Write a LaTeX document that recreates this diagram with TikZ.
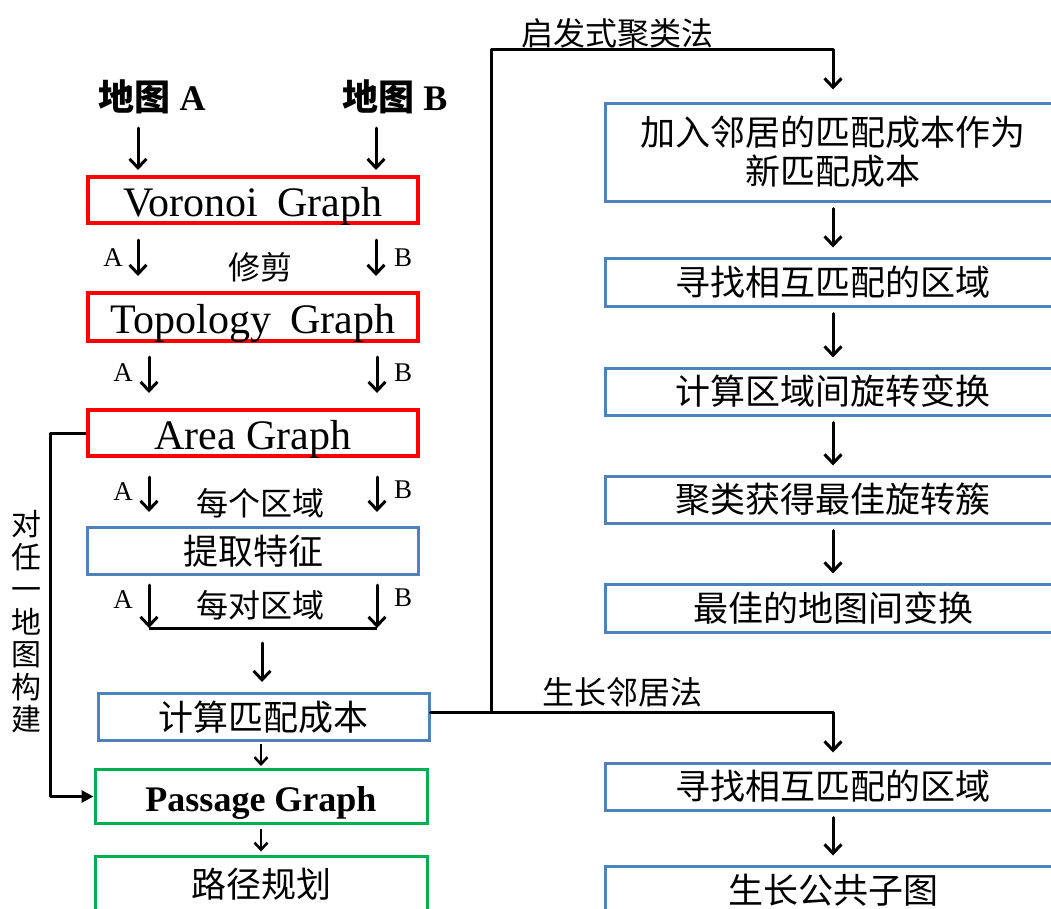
\documentclass[tikz,border=0pt]{standalone}
\usepackage{fontspec}
\setmainfont{Liberation Serif}
\newfontfamily\cjk{Noto Sans CJK SC}
\usetikzlibrary{arrows.meta,calc}
\definecolor{boxblue}{RGB}{79,129,189}
\definecolor{boxgreen}{RGB}{0,176,80}
\begin{document}
\begin{tikzpicture}[x=1pt,y=-1pt,
  redbox/.style={draw=red, line width=4pt, minimum width=330pt, inner sep=0pt, text height=32pt, text depth=0pt, font=\fontsize{42}{46}\selectfont},
  bluebox/.style={draw=boxblue, line width=3pt, inner sep=0pt, align=center, font=\cjk\fontsize{35}{39}\selectfont},
  greenbox/.style={draw=boxgreen, line width=3pt, inner sep=0pt, align=center, font=\cjk\fontsize{35}{39}\selectfont},
  lbl/.style={font=\cjk\fontsize{32}{36}\selectfont, inner sep=0pt},
  ab/.style={font=\fontsize{27}{30}\selectfont, inner sep=0pt},
  arr/.style={line width=3pt, line cap=round, -{Straight Barb[length=9pt,width=17pt]}},
  sarr/.style={line width=2.5pt, -{Straight Barb[length=7pt,width=13pt]}},
  conn/.style={line width=3pt, line join=round}
]
\useasboundingbox (0,0) rectangle (1051,908);
\clip (0,0) rectangle (1051,908);

% columns
\coordinate (xa1) at (138,0);
\coordinate (xa2) at (149,0);
\coordinate (xb) at (377,0);
\coordinate (lx) at (50,0);

% top labels
\node[inner sep=0pt, font=\fontsize{36}{40}\selectfont\bfseries] (mapA) at (152,97) {{\cjk 地图} A};
\node[inner sep=0pt, font=\fontsize{36}{40}\selectfont\bfseries] (mapB) at (395,97) {{\cjk 地图} B};

% left column boxes
\node[redbox, minimum height=46pt] (vor) at (253,200) {Voronoi\hspace{0.45em}Graph};
\node[redbox, minimum height=48pt] (topo) at (253,317) {Topology\hspace{0.45em}Graph};
\node[redbox, minimum height=46pt] (area) at (253,433) {Area Graph};
\node[bluebox, minimum width=331pt, minimum height=47pt] (feat) at (253,551) {提取特征};
\node[bluebox, minimum width=331pt, minimum height=47pt] (calc) at (263.5,717) {计算匹配成本};
\node[greenbox, minimum width=332pt, minimum height=54pt, text height=29.4pt, text depth=0pt, font=\fontsize{36}{40}\selectfont\bfseries] (pass) at (261,796.5) {Passage Graph};
\node[greenbox, minimum width=332pt, minimum height=56pt] (plan) at (261,884) {路径规划};

% row 1
\draw[arr] ($(vor.north -| xa1)+(0,-47)$) -- ($(vor.north -| xa1)+(0,-5)$);
\draw[arr] ($(vor.north -| xb)+(-1,-47)$) -- ($(vor.north -| xb)+(-1,-5)$);
% row 2
\draw[arr] ($(vor.south -| xa1)+(0,15)$) -- ($(topo.north -| xa1)+(0,-15)$);
\draw[arr] ($(vor.south -| xb)+(-1,15)$) -- ($(topo.north -| xb)+(-1,-15)$);
\node[ab] (a1) at (113,258) {A};
\node[ab] (b1) at (403,258) {B};
\node[lbl] (prune) at (260,267) {修剪};
% row 3
\draw[arr] ($(topo.south -| xa2)+(0,14)$) -- ($(area.north -| xa2)+(0,-15)$);
\draw[arr] ($(topo.south -| xb)+(0,14)$) -- ($(area.north -| xb)+(0,-15)$);
\node[ab] (a2) at (123,373) {A};
\node[ab] (b2) at (403,373) {B};
% row 4
\draw[arr] ($(area.south -| xa2)+(0,19)$) -- ($(feat.north -| xa2)+(0,-14)$);
\draw[arr] ($(area.south -| xb)+(0,19)$) -- ($(feat.north -| xb)+(0,-14)$);
\node[ab] (a3) at (123,492) {A};
\node[ab] (b3) at (403,490) {B};
\node[lbl] (each) at (260,503) {每个区域};
% row 5
\coordinate (join) at (262,628);
\draw[arr] ($(feat.south -| xa2)+(0,9)$) -- (xa2 |- join);
\draw[arr] ($(feat.south -| xb)+(0,9)$) -- (xb |- join);
\draw[conn] (xa2 |- join) -- (xb |- join);
\node[ab] (a4) at (123,600) {A};
\node[ab] (b4) at (403,598) {B};
\node[lbl] (pair) at (260,605) {每对区域};
\draw[arr] ($(join)+(0,15)$) -- ($(join |- calc.north)+(0,-10)$);

\draw[sarr] ($(calc.south -| pass.north)+(0,2)$) -- ($(pass.north)+(0,-2)$);
\draw[sarr] ($(pass.south)+(0,4)$) -- ($(plan.north)+(0,-3)$);

% left loop
\draw[conn, -{Triangle[length=12pt,width=12pt]}] (area.west) -- (area.west -| lx) -- (lx |- pass.west) -- (pass.west);
\node[inner sep=0pt, align=center, font=\cjk\fontsize{30}{32.5}\selectfont] (loop) at (27,622) {对\\任\\一\\地\\图\\构\\建};

% right column
\node[bluebox, minimum width=456pt, minimum height=98pt] (hb1) at (833,152) {加入邻居的匹配成本作为\\新匹配成本};
\node[bluebox, minimum width=456pt, minimum height=48pt] (hb2) at (833,282) {寻找相互匹配的区域};
\node[bluebox, minimum width=456pt, minimum height=47pt] (hb3) at (833,391.5) {计算区域间旋转变换};
\node[bluebox, minimum width=456pt, minimum height=47pt] (hb4) at (833,499.5) {聚类获得最佳旋转簇};
\node[bluebox, minimum width=456pt, minimum height=48pt] (hb5) at (833,608) {最佳的地图间变换};
\node[bluebox, minimum width=456pt, minimum height=47pt] (gb1) at (833,786.5) {寻找相互匹配的区域};
\node[bluebox, minimum width=456pt, minimum height=48pt] (gb2) at (833,890) {生长公共子图};

\draw[arr] ($(hb1.south)+(0,6)$) -- ($(hb2.north)+(0,-9)$);
\draw[arr] ($(hb2.south)+(0,6)$) -- ($(hb3.north)+(0,-9)$);
\draw[arr] ($(hb3.south)+(0,6)$) -- ($(hb4.north)+(0,-9)$);
\draw[arr] ($(hb4.south)+(0,6)$) -- ($(hb5.north)+(0,-9)$);
\draw[arr] ($(gb1.south)+(0,6)$) -- ($(gb2.north)+(0,-9)$);

\coordinate (jn) at (491,712);
\coordinate (tp) at (491,49);
\draw[conn, arr] (calc.east |- jn) -| ($(gb1.north)+(0,-9)$);
\draw[conn, arr] (jn) -- (tp) -| ($(hb1.north)+(0,-12)$);
\node[lbl] (heur) at (617,33) {启发式聚类法};
\node[lbl] (grow) at (622,692) {生长邻居法};
\end{tikzpicture}
\end{document}
